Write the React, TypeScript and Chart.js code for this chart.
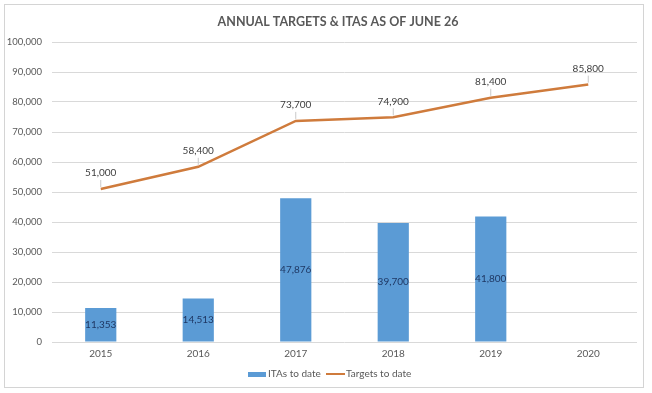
import { useEffect, useRef } from "react";
import { Chart, registerables } from "chart.js";
Chart.register(...registerables);

const years = ["2015", "2016", "2017", "2018", "2019", "2020"];
const itasToDate: (number | null)[] = [11353, 14513, 47876, 39700, 41800, null];
const targetsToDate = [51000, 58400, 73700, 74900, 81400, 85800];
const chartTitle = "ANNUAL TARGETS & ITAS AS OF JUNE 26";
const barLabel = "ITAs to date";
const lineLabel = "Targets to date";

const BAR_COLOR = "#5B9BD5";
const LINE_COLOR = "#CF7B3C";
const TEXT = "#595959";
const FONT = "Lato, 'Open Sans', sans-serif";

const fmt = (v: number) => v.toLocaleString("en-US");

const overlay = {
  id: "overlay",
  afterDatasetsDraw(chart: any) {
    const ctx = chart.ctx as CanvasRenderingContext2D;
    ctx.save();
    const barMeta = chart.getDatasetMeta(0);
    ctx.font = `10px ${FONT}`;
    ctx.textAlign = "center";
    ctx.textBaseline = "middle";
    ctx.fillStyle = "#1F3864";
    barMeta.data.forEach((el: any, i: number) => {
      const v = itasToDate[i];
      if (v == null) return;
      ctx.fillText(fmt(v), el.x, (el.y + el.base) / 2);
    });
    const lineMeta = chart.getDatasetMeta(1);
    lineMeta.data.forEach((el: any, i: number) => {
      const v = targetsToDate[i];
      ctx.strokeStyle = "#C9C9C9";
      ctx.lineWidth = 1;
      ctx.beginPath();
      ctx.moveTo(el.x, el.y - 2);
      ctx.lineTo(el.x, el.y - 9);
      ctx.stroke();
      ctx.fillStyle = "#404040";
      ctx.fillText(fmt(v), el.x, el.y - 16);
    });
    ctx.restore();
  },
  afterDraw(chart: any) {
    const ctx = chart.ctx as CanvasRenderingContext2D;
    ctx.save();
    ctx.font = `bold 12.5px ${FONT}`;
    ctx.fillStyle = TEXT;
    ctx.textAlign = "center";
    ctx.textBaseline = "middle";
    ctx.fillText(chartTitle, 338, 22);
    ctx.font = `10px ${FONT}`;
    ctx.textAlign = "left";
    const ly = 374;
    ctx.fillStyle = BAR_COLOR;
    ctx.fillRect(248, ly - 2, 18, 5);
    ctx.fillStyle = TEXT;
    ctx.fillText(barLabel, 268, ly);
    ctx.strokeStyle = LINE_COLOR;
    ctx.lineWidth = 2;
    ctx.beginPath();
    ctx.moveTo(326, ly);
    ctx.lineTo(345, ly);
    ctx.stroke();
    ctx.fillText(lineLabel, 346, ly);
    ctx.restore();
  },
};

export default function App() {
  const ref = useRef<HTMLCanvasElement>(null);
  useEffect(() => {
    if (!ref.current) return;
    const chart = new Chart(ref.current, {
      type: "bar",
      data: {
        labels: years,
        datasets: [
          {
            type: "bar",
            label: barLabel,
            data: itasToDate as any,
            backgroundColor: BAR_COLOR,
            barPercentage: 0.32,
            categoryPercentage: 1,
            order: 1,
          },
          {
            type: "line",
            label: lineLabel,
            data: targetsToDate,
            borderColor: LINE_COLOR,
            backgroundColor: LINE_COLOR,
            borderWidth: 2.5,
            pointRadius: 0,
            tension: 0,
            order: 0,
          } as any,
        ],
      },
      options: {
        responsive: false,
        animation: false,
        layout: { padding: { left: 0, top: 42, right: 15, bottom: 0 } },
        plugins: {
          legend: { display: false },
          title: { display: false },
          tooltip: { enabled: false },
        },
        scales: {
          x: {
            grid: { display: false, drawTicks: false },
            border: { display: false },
            ticks: { color: TEXT, font: { family: FONT, size: 10 }, padding: 6 },
            afterFit: (s: any) => {
              s.height = 51;
            },
          },
          y: {
            min: 0,
            max: 100000,
            grid: { color: "#D9D9D9", drawTicks: false },
            border: { display: false },
            ticks: {
              stepSize: 10000,
              color: TEXT,
              font: { family: FONT, size: 9.5 },
              padding: 10,
              callback: (v: any) => fmt(Number(v)),
            },
            afterFit: (s: any) => {
              s.width = 52;
            },
          },
        },
      },
      plugins: [overlay],
    });
    return () => chart.destroy();
  }, []);
  return (
    <div style={{ position: "fixed", left: 0, top: 0, width: 652, height: 393, background: "#fff" }}>
      <div
        style={{
          position: "absolute",
          left: 4,
          top: 4,
          width: 638,
          height: 382,
          border: "1px solid #D4D4D4",
        }}
      />
      <canvas ref={ref} width={652} height={393} style={{ position: "absolute", left: 0, top: 0 }} />
    </div>
  );
}
